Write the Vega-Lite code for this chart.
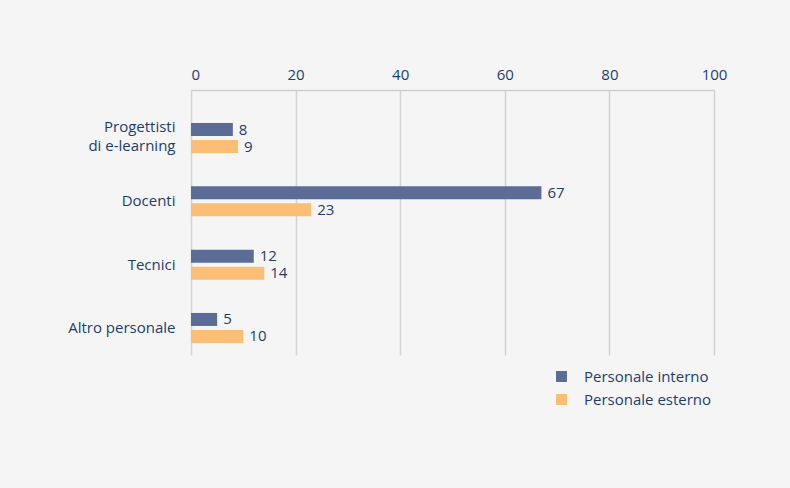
{
  "$schema": "https://vega.github.io/schema/vega-lite/v6.json",
  "autosize": "none",
  "width": 523,
  "height": 265,
  "padding": {"left": 191, "top": 90, "right": 76, "bottom": 133},
  "background": "#f5f5f5",
  "config": {
    "view": {"stroke": null},
    "font": "Open Sans",
    "axis": {"labelFont": "Open Sans", "labelColor": "#1c3e6e", "labelFontSize": 15},
    "legend": {"labelFont": "Open Sans", "labelColor": "#1c3e6e", "labelFontSize": 15}
  },
  "data": {
    "values": [
      {"categoria": "Progettisti di e-learning", "personale": "Personale interno", "valore": 8},
      {"categoria": "Progettisti di e-learning", "personale": "Personale esterno", "valore": 9},
      {"categoria": "Docenti", "personale": "Personale interno", "valore": 67},
      {"categoria": "Docenti", "personale": "Personale esterno", "valore": 23},
      {"categoria": "Tecnici", "personale": "Personale interno", "valore": 12},
      {"categoria": "Tecnici", "personale": "Personale esterno", "valore": 14},
      {"categoria": "Altro personale", "personale": "Personale interno", "valore": 5},
      {"categoria": "Altro personale", "personale": "Personale esterno", "valore": 10}
    ]
  },
  "encoding": {
    "y": {
      "field": "categoria",
      "type": "nominal",
      "sort": ["Progettisti di e-learning", "Docenti", "Tecnici", "Altro personale"],
      "scale": {"paddingInner": 0.526, "paddingOuter": 0.356, "align": 0.733},
      "axis": {
        "title": null,
        "ticks": false,
        "domain": false,
        "labelPadding": 16,
        "labelLineHeight": 19,
        "labelOffset": {"condition": {"test": "datum.value === 'Progettisti di e-learning'", "value": -11}, "value": 0},
        "labelExpr": "datum.value === 'Progettisti di e-learning' ? ['Progettisti', 'di e-learning'] : datum.value"
      }
    },
    "yOffset": {
      "field": "personale",
      "type": "nominal",
      "sort": ["Personale interno", "Personale esterno"],
      "scale": {"paddingInner": 0.235, "paddingOuter": 0}
    },
    "x": {
      "field": "valore",
      "type": "quantitative",
      "scale": {"domain": [0, 100], "nice": false},
      "axis": {
        "orient": "top",
        "title": null,
        "values": [0, 20, 40, 60, 80, 100],
        "ticks": false,
        "domain": true,
        "domainColor": "#cfcfcf",
        "domainWidth": 1.5,
        "grid": true,
        "gridColor": "#d3d3d3",
        "gridWidth": 1.5,
        "labelPadding": 8,
        "labelFlush": false,
        "labelAlign": {"condition": {"test": "datum.value === 0", "value": "left"}, "value": "center"}
      }
    }
  },
  "layer": [
    {
      "mark": {"type": "bar"},
      "encoding": {
        "color": {
          "field": "personale",
          "type": "nominal",
          "sort": ["Personale interno", "Personale esterno"],
          "scale": {"domain": ["Personale interno", "Personale esterno"], "range": ["#5b6c97", "#fbbe74"]},
          "legend": {
            "title": null,
            "orient": "none",
            "legendX": 363,
            "legendY": 279,
            "symbolType": "square",
            "symbolSize": 121,
            "symbolStrokeWidth": 0,
            "symbolOpacity": 1,
            "labelOffset": 15,
            "rowPadding": 7
          }
        }
      }
    },
    {
      "mark": {"type": "text", "align": "left", "baseline": "middle", "dx": 6, "fontSize": 15, "color": "#1c3e6e", "font": "Open Sans"},
      "encoding": {
        "text": {"field": "valore", "type": "quantitative"}
      }
    }
  ]
}
